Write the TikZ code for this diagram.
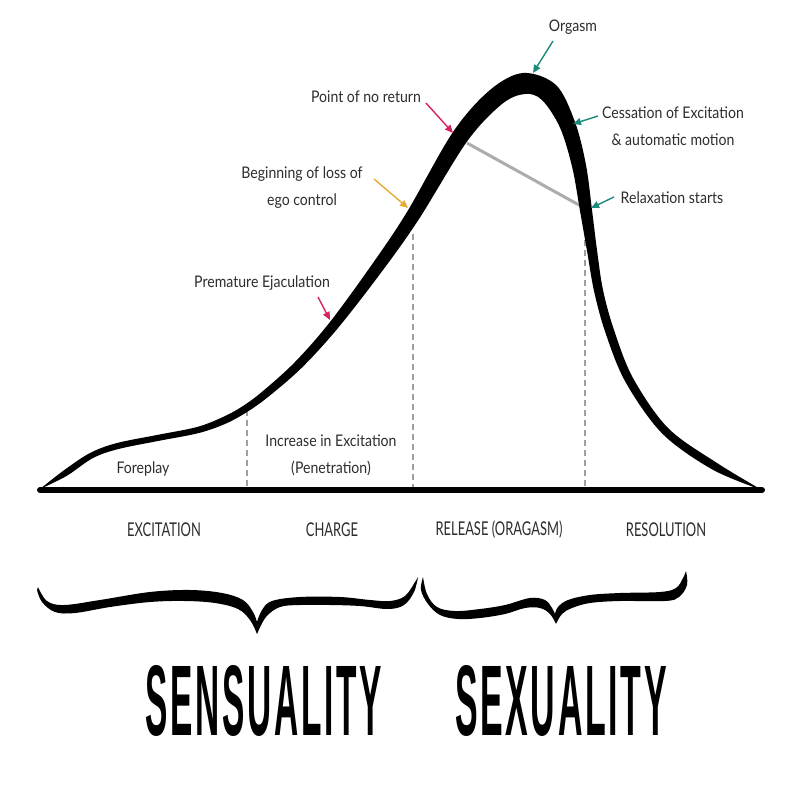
\documentclass[tikz,border=0pt]{standalone}
\usepackage{fontspec}
\usepackage{graphicx}
\usetikzlibrary{arrows.meta}
\newfontfamily\lblfont[FakeStretch=0.88]{Lato}
\newfontfamily\phasefont[FakeStretch=0.68]{Lato}
\newfontfamily\bigfont[LetterSpace=8]{Liberation Sans Bold}
\definecolor{inkc}{RGB}{45,45,45}
\definecolor{tealc}{RGB}{28,138,122}
\definecolor{pinkc}{RGB}{214,36,92}
\definecolor{goldc}{RGB}{228,172,52}
\tikzset{
  lbl/.style={font=\lblfont\fontsize{16}{27}\selectfont,text=inkc,align=center,inner sep=0pt},
  phase/.style={font=\phasefont\fontsize{19}{22}\selectfont,text=inkc,inner sep=0pt},
  bigword/.style={inner sep=0pt},
  pointer/.style={line width=1.4pt,-{Triangle[length=8pt,width=7pt]}},
  divider/.style={draw=gray!75,line width=1.2pt,dash pattern=on 6pt off 4pt},
  brace/.style={fill=black},
}

\begin{document}
\begin{tikzpicture}[x=1pt,y=-1pt]
  \useasboundingbox[fill=white] (0,0) rectangle (800,800);

  % points on the curve and the axis
  \coordinate (d1top) at (247,410);
  \coordinate (d1bot) at (247,490);
  \coordinate (d2top) at (413,234);
  \coordinate (d2bot) at (413,490);
  \coordinate (d3top) at (585,240);
  \coordinate (d3bot) at (585,490);
  \coordinate (axisL) at (40,490);
  \coordinate (axisR) at (762,490);
  \coordinate (ponrin) at (467,143);
  \coordinate (relaxin) at (579,205);

  \draw[divider] (d1top) -- (d1bot);
  \draw[divider] (d2top) -- (d2bot);
  \draw[divider] (d3top) -- (d3bot);
  \draw[gray!65,line width=3pt] (ponrin) -- (relaxin);

  \fill[black] plot[smooth,tension=0.55] coordinates {
      (40,489) (63,471) (90,453) (117,443) (157,435) (197,427) (223,417)
      (243,406) (263,391) (295,362) (330,322) (373,263) (407,212) (453,132)
      (490,90) (523,73) (556,85) (575,122) (586,165) (592,210) (597,250)
      (603,290) (614,330) (633,378) (668,428) (717,463) (762,490)}
    -- plot[smooth,tension=0.55] coordinates {
      (762,490) (712.6,469.6) (662.3,433.6) (625.5,382) (605.5,332.9)
      (594.2,291.9) (587.1,251.4) (580.1,211.5) (572.3,167.7) (560,127.6)
      (542,100) (525,94) (502,104)
      (467,141.5) (419,219) (383,270) (338,328) (301.5,368) (268,397)
      (247,412) (226,423.5) (199,433) (158,441) (118.5,449) (93,458)
      (66.5,476) (40,489)} -- cycle;
  \draw[line width=6pt,line cap=round] (axisL) -- (axisR);

  % labels and pointers
  \node[lbl] (orgasm) at (573,27) {Orgasm};
  \node[lbl] (ponr) at (366,97) {Point of no return};
  \node[lbl] (cess) at (673,126) {Cessation of Excitation\\\& automatic motion};
  \node[lbl] (relax) at (672,198) {Relaxation starts};
  \node[lbl] (ego) at (302,188) {Beginning of loss of\\ego control};
  \node[lbl] (prem) at (262,283) {Premature Ejaculation};
  \node[lbl] (fore) at (143,469) {Foreplay};
  \node[lbl] (incr) at (331,455) {Increase in Excitation\\(Penetration)};

  \coordinate (orgasmtail) at (553,41);
  \coordinate (orgasmtip) at (533,73);
  \coordinate (ponrtail) at (426,103);
  \coordinate (ponrtip) at (453,133);
  \coordinate (cesstail) at (598,116);
  \coordinate (cesstip) at (573,124);
  \coordinate (relaxtail) at (614,197);
  \coordinate (relaxtip) at (591,208);
  \coordinate (egotail) at (374,179);
  \coordinate (egotip) at (408,208);
  \coordinate (premtail) at (318,297);
  \coordinate (premtip) at (330,320);

  \draw[pointer,tealc] (orgasmtail) -- (orgasmtip);
  \draw[pointer,pinkc] (ponrtail) -- (ponrtip);
  \draw[pointer,tealc] (cesstail) -- (cesstip);
  \draw[pointer,tealc] (relaxtail) -- (relaxtip);
  \draw[pointer,goldc] (egotail) -- (egotip);
  \draw[pointer,pinkc] (premtail) -- (premtip);

  \node[phase] (excit) at (164,530) {EXCITATION};
  \node[phase] (charge) at (332,530) {CHARGE};
  \node[phase] (release) at (499,530) {RELEASE (ORAGASM)};
  \node[phase] (resol) at (666,530) {RESOLUTION};

  % braces
  \fill[brace] plot[smooth,tension=0.6] coordinates {
      (38,587) (47,601) (64,605) (100,600) (150,592) (190,590) (222,593)
      (243,600) (253,612) (257,622)}
    -- plot[smooth,tension=0.6] coordinates {
      (257,622) (262,610) (272,601) (300,597) (340,597) (370,600) (390,601)
      (405,596) (415,582) (418,577)}
    -- plot[smooth,tension=0.6] coordinates {
      (418,577) (414,592) (404,605) (388,609) (360,606) (330,605) (300,605)
      (280,607) (266,617) (257,634)}
    -- plot[smooth,tension=0.6] coordinates {
      (257,634) (250,620) (238,609) (215,603) (185,601) (150,602) (110,607)
      (75,613) (55,612) (42,602) (37,590)} -- cycle;
  \fill[brace] plot[smooth,tension=0.6] coordinates {
      (423,577) (427,594) (437,607) (455,611) (480,609) (505,605) (530,598)
      (545,600) (552,608) (555,614)}
    -- plot[smooth,tension=0.6] coordinates {
      (555,614) (558,607) (568,600) (590,595) (620,593) (660,592) (676,588)
      (683,578) (686,571)}
    -- plot[smooth,tension=0.6] coordinates {
      (686,571) (687,585) (679,597) (665,601) (620,601) (590,603) (572,608)
      (562,614) (556,624)}
    -- plot[smooth,tension=0.6] coordinates {
      (556,624) (550,614) (540,608) (525,608) (505,614) (480,618) (458,619)
      (440,615) (428,604) (421,590) (423,577)} -- cycle;

  \node[bigword] (sens) at (264,701) {\resizebox{236pt}{70pt}{\bigfont SENSUALITY}};
  \node[bigword] (sex) at (561,701) {\resizebox{212pt}{70pt}{\bigfont SEXUALITY}};
\end{tikzpicture}
\end{document}
